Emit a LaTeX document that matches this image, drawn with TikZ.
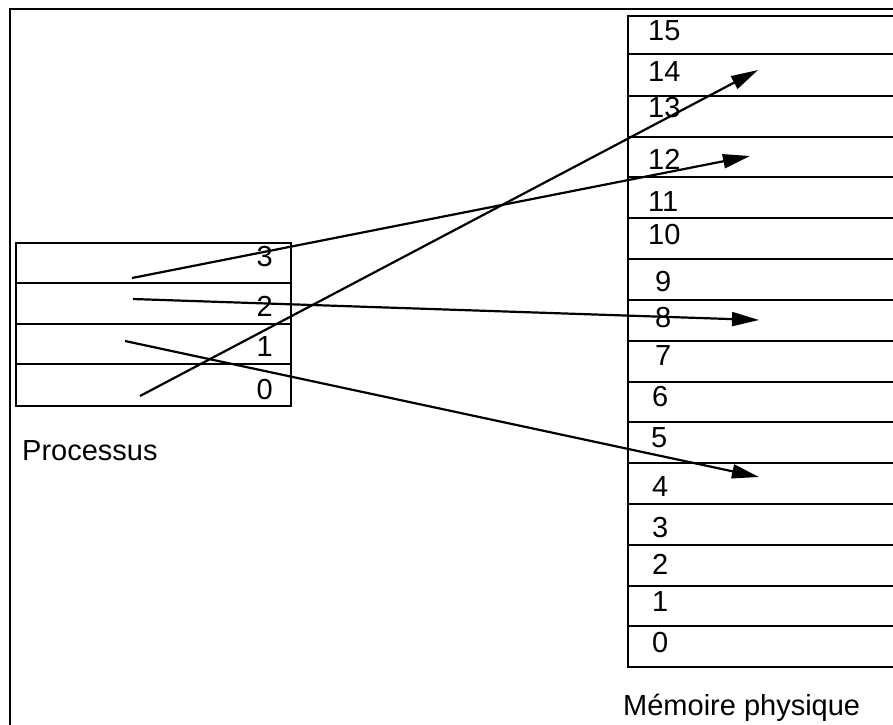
\documentclass[tikz,border=0pt]{standalone}
\usepackage{fontspec}
\setmainfont{Liberation Sans}
\usetikzlibrary{arrows.meta}
\begin{document}
\begin{tikzpicture}[x=1pt,y=-1pt,line width=2.4pt,
  lbl/.style={inner sep=0pt,font=\fontsize{29}{33}\selectfont},
  ptr/.style={-{Triangle[length=27pt,width=14pt]},line width=2.2pt}]
\useasboundingbox (0,0) rectangle (893,724);
\clip (0,0) rectangle (893,724);
% outer frame
\draw (10,726) -- (10,9) -- (896,9);
% physical memory
\foreach \t/\b in {16/54,54/96,96/137,137/177,177/218,218/259,259/300,300/341,341/382,382/422,422/463,463/504,504/545,545/586,586/626,626/667}
  \draw (628,\t) rectangle (905,\b);
\foreach \n/\x/\y in {15/647/40,14/647/81,13/647/117,12/647/169,11/647/211,10/647/244,9/654/291,8/654/327,7/654/365,6/651/406,5/650/447,4/651/496,3/651/537,2/651/574,1/651/611,0/651/652}
  \node[lbl,anchor=base west] (m\n) at (\x,\y) {\n};
\node[lbl,anchor=base west] (mem) at (622,715) {Mémoire physique};
% process
\draw (16,243) rectangle (291,406);
\draw (15,283) -- (291,283);
\draw (15,324) -- (291,324);
\draw (15,364) -- (291,364);
\foreach \n/\y in {3/266,2/316,1/356,0/399}
  \node[lbl,anchor=base east] (p\n) at (274,\y) {\n};
\node[lbl,anchor=base west] (proc) at (21,460) {Processus};
% pointers
\coordinate (s3) at (132,278);
\coordinate (s2) at (133,299);
\coordinate (s1) at (125,341);
\coordinate (s0) at (140,396);
\coordinate (e12) at (750,156);
\coordinate (e8) at (759,320);
\coordinate (e4) at (759,477);
\coordinate (e14) at (758,70);
\draw[ptr] (s3) -- (e12);
\draw[ptr] (s2) -- (e8);
\draw[ptr] (s1) -- (e4);
\draw[ptr] (s0) -- (e14);
\end{tikzpicture}
\end{document}
